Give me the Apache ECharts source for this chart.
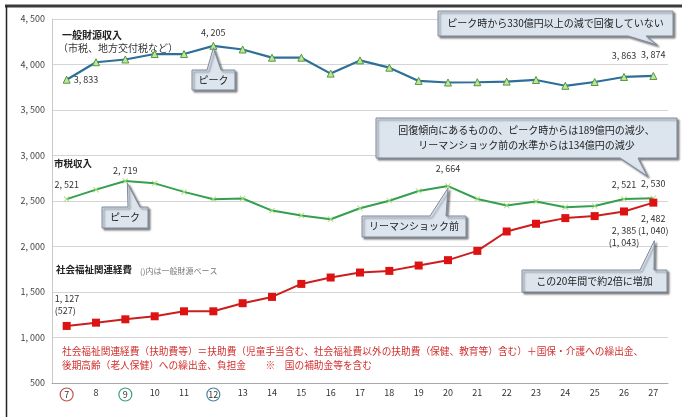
<!DOCTYPE html>
<html>
<head>
<meta charset="utf-8">
<script src="https://cdn.jsdelivr.net/npm/echarts@6/dist/echarts.min.js"></script>
<style>
  html, body { margin: 0; padding: 0; background: #fff; }
  #chart { width: 684px; height: 417px; }
</style>
</head>
<body>
<div id="chart"></div>
<script>
// 年度（平成）
const categories = ['7','8','9','10','11','12','13','14','15','16','17','18','19','20','21','22','23','24','25','26','27'];
// 一般財源収入（億円）
const generalRevenue = [3833, 4025, 4055, 4115, 4115, 4205, 4165, 4075, 4075, 3900, 4045, 3965, 3820, 3802, 3805, 3812, 3830, 3766, 3808, 3863, 3874];
// 市税収入（億円）
const taxRevenue = [2521, 2625, 2719, 2694, 2600, 2520, 2527, 2395, 2340, 2300, 2420, 2503, 2610, 2664, 2522, 2450, 2494, 2432, 2445, 2521, 2530];
// 社会福祉関連経費（億円）
const welfareCost = [1127, 1163, 1200, 1233, 1288, 1288, 1377, 1446, 1589, 1659, 1714, 1732, 1791, 1850, 1952, 2165, 2250, 2312, 2334, 2385, 2482];
// 社会福祉関連経費のうち一般財源ベース（表示する年度のみ）
const welfareGeneralIdx = [0, 19, 20];
const welfareGeneralVals = [527, 1043, 1040];
// 縦軸目盛
const yTicks = { min: 500, max: 4500, step: 500 };

const JP = '"Noto Sans CJK JP", "Noto Sans", sans-serif';
const fmt = v => v >= 1000 ? Math.floor(v / 1000) + ', ' + String(v % 1000).padStart(3, '0') : String(v);

const numLabel = (extra) => Object.assign({
  show: true, fontFamily: JP, fontSize: 9, color: '#333',
  formatter: p => fmt(p.value)
}, extra);

function withLabels(values, labels) {
  return values.map((v, i) => labels[i] ? { value: v, label: labels[i] } : v);
}

const generalData = withLabels(generalRevenue, {
  0: numLabel({ position: 'right', distance: 3 }),
  5: numLabel({ position: 'top', distance: 5 }),
  19: numLabel({ position: 'top', distance: 13 }),
  20: numLabel({ position: 'top', distance: 13 })
});

const taxData = withLabels(taxRevenue, {
  0: numLabel({ position: 'top', distance: 7 }),
  2: numLabel({ position: 'top', distance: 3 }),
  13: numLabel({ position: 'top', distance: 10 }),
  19: numLabel({ position: 'top', distance: 7 }),
  20: numLabel({ position: 'top', distance: 7 })
});

const welfareLabelStyle = {
  0: { position: 'top', distance: 5, align: 'left', offset: [-12, 0] },
  19: { position: 'bottom', distance: 9 },
  20: { position: 'bottom', distance: 6 }
};
const welfareData = welfareCost.map((v, i) => {
  const k = welfareGeneralIdx.indexOf(i);
  if (k < 0) return v;
  const g = welfareGeneralVals[k];
  return {
    value: v,
    label: numLabel(Object.assign({
      lineHeight: 12,
      formatter: () => fmt(v) + '\n(' + fmt(g) + ')'
    }, welfareLabelStyle[i]))
  };
});

const circled = { 7: 'r', 9: 'g', 12: 'b' };
const circleStyle = (c) => ({
  fontFamily: JP, fontSize: 9, color: '#333', borderColor: c, borderWidth: 1.2,
  borderRadius: 7, width: 13, height: 13, lineHeight: 13, align: 'center', padding: [0, 0, 0, 0]
});

const chart = echarts.init(document.getElementById('chart'), null, { renderer: 'canvas' });

const option = {
  animation: false,
  backgroundColor: '#fff',
  grid: { left: 52, right: 16, top: 19, bottom: 34 },
  xAxis: {
    type: 'category',
    data: categories,
    boundaryGap: true,
    axisLine: { lineStyle: { color: '#a8a8a8' } },
    axisTick: { show: false },
    axisLabel: {
      fontFamily: JP, fontSize: 9, color: '#333', margin: 5, interval: 0,
      formatter: v => circled[v] ? '{' + circled[v] + '|' + v + '}' : v,
      rich: { r: circleStyle('#c0504d'), g: circleStyle('#3aa07a'), b: circleStyle('#4a7f9f') }
    }
  },
  yAxis: {
    type: 'value',
    min: yTicks.min, max: yTicks.max, interval: yTicks.step,
    axisLine: { show: true, lineStyle: { color: '#c8c8c8' } },
    splitLine: { lineStyle: { color: '#d4d4d4' } },
    axisLabel: { fontFamily: JP, fontSize: 9, color: '#444', margin: 7, formatter: v => fmt(v) }
  },
  series: [
    {
      name: '一般財源収入', type: 'line', data: generalData,
      lineStyle: { color: '#2e6f99', width: 2.2 },
      symbol: 'triangle', symbolSize: 7,
      itemStyle: { color: '#c3e59b', borderColor: '#4e9a3c', borderWidth: 1 },
      z: 3
    },
    {
      name: '市税収入', type: 'line', data: taxData,
      lineStyle: { color: '#34a04e', width: 2 },
      symbol: 'path://M0,1L1,0L5,4L9,0L10,1L6,5L10,9L9,10L5,6L1,10L0,9L4,5Z', symbolSize: 6,
      itemStyle: { color: '#a5dd7a', borderWidth: 0 },
      z: 3
    },
    {
      name: '社会福祉関連経費', type: 'line', data: welfareData,
      lineStyle: { color: '#cc1e1e', width: 2 },
      symbol: 'rect', symbolSize: 8,
      itemStyle: { color: '#dd1313', borderWidth: 0 },
      z: 4
    }
  ],
  graphic: [
    // 外枠
    { type: 'line', shape: { x1: 5, y1: 6, x2: 682, y2: 6 }, style: { stroke: '#3a3a3a', lineWidth: 3 }, silent: true },
    { type: 'line', shape: { x1: 6.5, y1: 6, x2: 6.5, y2: 417 }, style: { stroke: '#222', lineWidth: 1.5 }, silent: true },
    // 系列名
    { type: 'text', left: 62, top: 30, style: { text: '一般財源収入', font: 'bold 10px ' + JP, fill: '#222' } },
    { type: 'text', left: 58, top: 43, style: { text: '（市税、地方交付税など）', font: '10px ' + JP, fill: '#333' } },
    { type: 'text', left: 54, top: 159, style: { text: '市税収入', font: 'bold 9.5px ' + JP, fill: '#222' } },
    { type: 'text', left: 56, top: 265, style: { text: '社会福祉関連経費', font: 'bold 9.5px ' + JP, fill: '#222' } },
    { type: 'text', left: 140, top: 267, style: { text: '()内は一般財源ベース', font: '8px ' + JP, fill: '#777' } },
    // 注記
    { type: 'text', left: 62, top: 346, style: { text: '社会福祉関連経費（扶助費等）＝扶助費（児童手当含む、社会福祉費以外の扶助費（保健、教育等）含む）＋国保・介護への繰出金、', font: '9.7px ' + JP, fill: '#d2302f' } },
    { type: 'text', left: 62, top: 360, style: { text: '後期高齢（老人保健）への繰出金、負担金　　※　国の補助金等を含む', font: '9.7px ' + JP, fill: '#d2302f' } }
  ]
};

chart.setOption(option);

// 吹き出し（先端は該当データ点の位置）
function bubble(box, edge, a, b, tip, lines, fontSize) {
  const [x0, y0, x1, y1] = box;
  let pts;
  if (edge === 'top') {
    pts = [[x0, y0], [a, y0], tip, [b, y0], [x1, y0], [x1, y1], [x0, y1]];
  } else {
    pts = [[x0, y0], [x1, y0], [x1, y1], [b, y1], tip, [a, y1], [x0, y1]];
  }
  const els = [{
    type: 'polygon', shape: { points: pts }, z: 10,
    style: { fill: '#dce4ee', stroke: '#7d8a9c', lineWidth: 1, shadowColor: 'rgba(0,0,0,0.45)', shadowBlur: 2, shadowOffsetX: 2, shadowOffsetY: 2 }
  }];
  const cx = (x0 + x1) / 2, cy = (y0 + y1) / 2;
  const lh = fontSize + 5;
  lines.forEach((t, i) => {
    els.push({
      type: 'text', z: 11, x: cx, y: cy + (i - (lines.length - 1) / 2) * lh,
      style: { text: t, font: fontSize + 'px ' + JP, fill: '#222', align: 'center', verticalAlign: 'middle' }
    });
  });
  return els;
}

const px = (s, i, v) => chart.convertToPixel({ seriesIndex: s }, [i, v]);
const gPeak = px(0, 5, generalRevenue[5]);
const gLast = px(0, 20, generalRevenue[20]);
const tPeak = px(1, 2, taxRevenue[2]);
const tLehman = px(1, 13, taxRevenue[13]);
const tLast = px(1, 20, taxRevenue[20]);
const wLast = px(2, 20, welfareCost[20]);

const bubbles = [].concat(
  bubble([192, 70, 235, 90], 'top', 207, 221, [gPeak[0], gPeak[1] + 2], ['ピーク'], 10),
  bubble([438, 11, 673, 36], 'bottom', 628, 646, [gLast[0] + 4, gLast[1] - 31], ['ピーク時から330億円以上の減で回復していない'], 10),
  bubble([102, 207, 148, 228], 'top', 128, 140, [tPeak[0] + 2, tPeak[1] + 2], ['ピーク'], 10),
  bubble([362, 216, 466, 237], 'top', 430, 446, [tLehman[0], tLehman[1] + 2], ['リーマンショック前'], 10),
  bubble([376, 118, 677, 158], 'bottom', 620, 638, [tLast[0] - 6, tLast[1] - 22], ['回復傾向にあるものの、ピーク時からは189億円の減少、', 'リーマンショック前の水準からは134億円の減少'], 10),
  bubble([522, 270, 667, 292], 'top', 640, 654, [wLast[0] + 1, wLast[1] + 38], ['この20年間で約2倍に増加'], 10)
);

chart.setOption({ graphic: option.graphic.concat(bubbles) });
</script>
</body>
</html>
